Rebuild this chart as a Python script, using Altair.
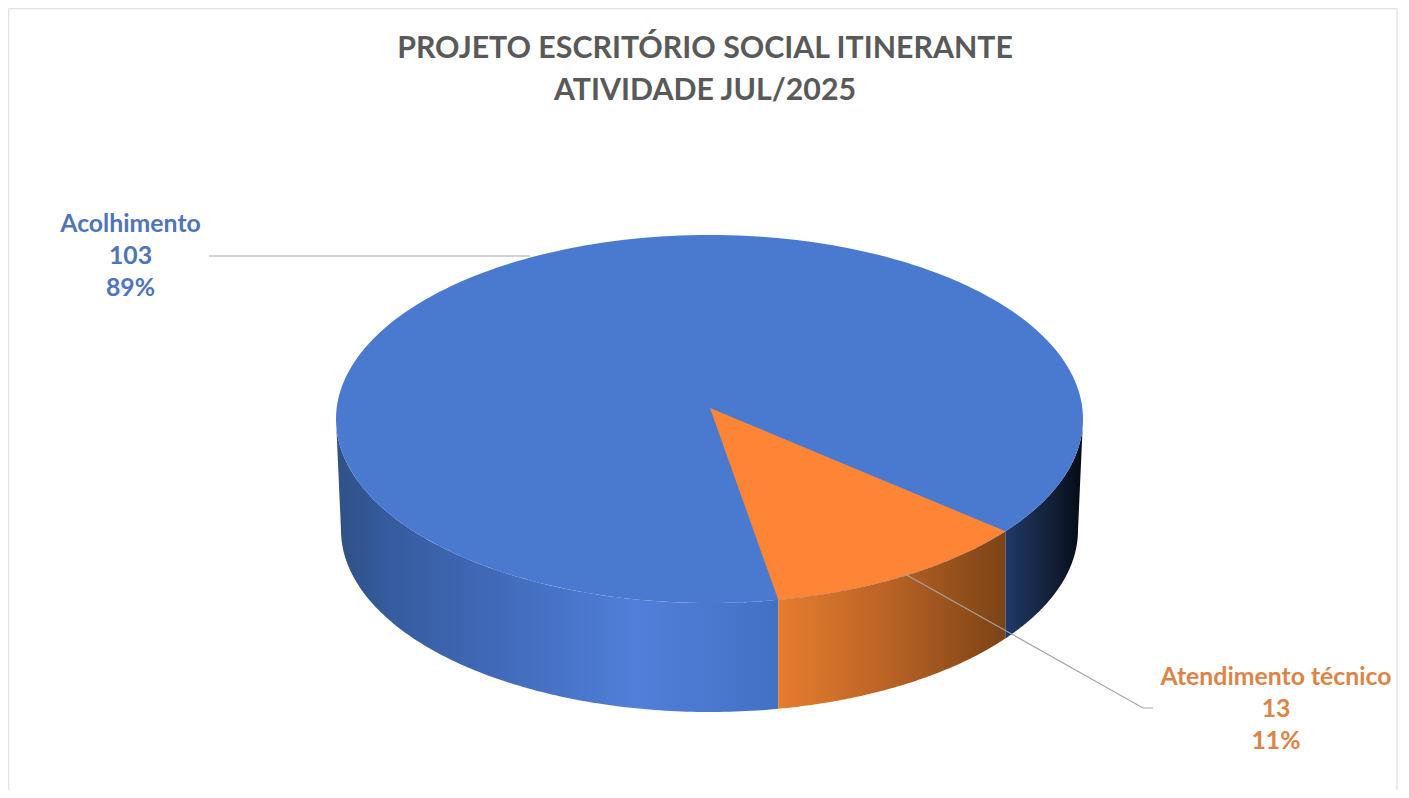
import math
import altair as alt
import pandas as pd

# Values
title_lines = ["PROJETO ESCRITÓRIO SOCIAL ITINERANTE", "ATIVIDADE JUL/2025"]
categories = ["Acolhimento", "Atendimento técnico"]
values = [103, 13]
percent_labels = ["89%", "11%"]

# Page geometry (scale domains equal the picture's pixel coordinates)
W, H = 1393, 782
X_DOM = [8, 8 + W]
Y_DOM = [8 + H, 8]

# Pie geometry
TOP = dict(cx=709.5, cy=419.0, a=373.5, b=184.0)
BOT = dict(cx=709.5, cy=530.0, a=368.5, b=182.0)
APEX = (710.0, 408.0)
SLICE_END_DEG = 79.4   # ellipse-parameter angle of the orange slice's front edge
PERSPECTIVE = 1.036    # the tilted view widens the slice's apparent sweep

total = sum(values)
sweep = 360.0 * values[1] / total * PERSPECTIVE
SLICE_START_DEG = SLICE_END_DEG - sweep


def ell(e, deg):
    t = math.radians(deg)
    return e["cx"] + e["a"] * math.cos(t), e["cy"] + e["b"] * math.sin(t)


def arc(e, d0, d1, n=120):
    return [ell(e, d0 + (d1 - d0) * i / n) for i in range(n + 1)]


def bottom_angle(deg):
    """Angle on the bottom ellipse straight below a point of the top ellipse."""
    x = ell(TOP, deg)[0]
    c = max(-1.0, min(1.0, (x - BOT["cx"]) / BOT["a"]))
    return math.degrees(math.acos(c))


def frame(points):
    return pd.DataFrame([{"x": p[0], "y": p[1], "i": i} for i, p in enumerate(points)])


x_enc = alt.X("x:Q", scale=alt.Scale(domain=X_DOM), axis=None)
y_enc = alt.Y("y:Q", scale=alt.Scale(domain=Y_DOM), axis=None)


def polygon(points, fill):
    return alt.Chart(frame(points)).mark_line(
        fill=fill, strokeWidth=0, strokeOpacity=0, clip=True
    ).encode(x=x_enc, y=y_enc, order=alt.Order("i:Q"))


def grad(stops):
    return {
        "gradient": "linear", "x1": 0, "y1": 0, "x2": 1, "y2": 0,
        "stops": [{"offset": o, "color": c} for o, c in stops],
    }


def wall(d0, d1, fill):
    return polygon(arc(TOP, d0, d1) + arc(BOT, bottom_angle(d1), bottom_angle(d0)), fill)


wall_blue = wall(180, SLICE_END_DEG, grad([
    (0.0, "#2f5186"), (0.12, "#365b9e"), (0.35, "#4069b8"),
    (0.68, "#517fd9"), (0.85, "#4a78cf"), (1.0, "#4270c2"),
]))
wall_orange = wall(SLICE_END_DEG, SLICE_START_DEG, grad([
    (0.0, "#e67c2e"), (0.45, "#bd6526"), (1.0, "#7c4316"),
]))
wall_dark = wall(SLICE_START_DEG, 0, grad([
    (0.0, "#21396a"), (0.5, "#15243f"), (1.0, "#050b16"),
]))

top_blue = polygon(arc(TOP, 0, 360, 240), "#4a7ad0")
top_orange = polygon([APEX] + arc(TOP, SLICE_START_DEG, SLICE_END_DEG), "#fd8535")


def leader(points, color="#a6a6a6"):
    return alt.Chart(frame(points)).mark_line(color=color, strokeWidth=1.2).encode(
        x=x_enc, y=y_enc, order=alt.Order("i:Q")
    )


leader_blue = leader([(209, 256), (530, 256)])
leader_orange = leader([(905, 574), (1143, 708), (1153, 708)])


def text_rows(rows, x, y0, dy, size, color):
    df = pd.DataFrame({"t": rows, "y": [y0 + dy * i for i in range(len(rows))], "x": [x] * len(rows)})
    return alt.Chart(df).mark_text(
        font="Lato", fontWeight="bold", fontSize=size, color=color, align="center", baseline="middle"
    ).encode(x=x_enc, y=y_enc, text="t:N")


title = text_rows(title_lines, 705, 48.5, 42, 30.3, "#595959")
label_blue = text_rows([categories[0], str(values[0]), percent_labels[0]], 130.5, 225, 32, 24.8, "#4f74b8")
label_orange = text_rows([categories[1], str(values[1]), percent_labels[1]], 1276, 678, 32, 24.8, "#dc8448")


def border(points):
    return alt.Chart(frame(points)).mark_line(color="#e4e4e4", strokeWidth=1.5).encode(
        x=x_enc, y=y_enc, order=alt.Order("i:Q"))


border_left = border([(8.5, 8.5), (8.5, 790)])
border_top = border([(8.5, 8.5), (1397, 8.5)])
border_right = border([(1397, 8.5), (1397, 790)])

chart = alt.layer(
    border_left, border_top, border_right,
    wall_blue, wall_orange, wall_dark,
    top_blue, top_orange,
    leader_blue, leader_orange,
    title, label_blue, label_orange,
).properties(
    width=W, height=H, padding=0, autosize=alt.AutoSizeParams(type="none"), background="#ffffff",
).configure_view(stroke=None)

chart.save("out.html", embed_options={"renderer": "svg", "actions": False})
